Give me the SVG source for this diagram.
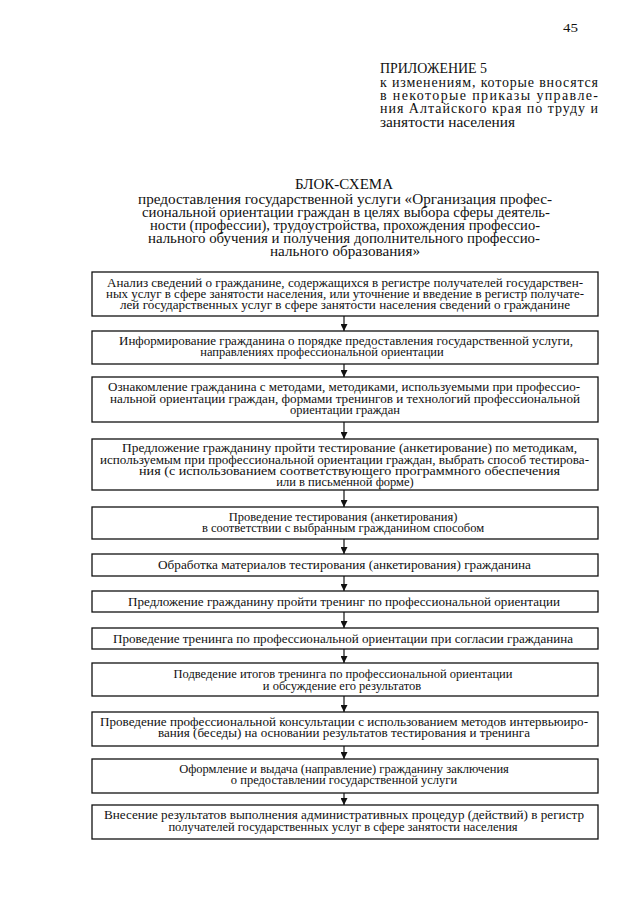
<svg xmlns="http://www.w3.org/2000/svg" width="640" height="905" viewBox="0 0 640 905">
<style>
text{font-family:"Liberation Serif","Times New Roman",serif;fill:#111}
.t{font-size:12.5px}
.h{font-size:14px}
.box{fill:#fff;stroke:#111;stroke-width:1.3}
.con line{stroke:#111;stroke-width:1.2}
</style>
<defs>
<marker id="ah" viewBox="0 0 8 8" refX="8" refY="4" markerWidth="7" markerHeight="7" markerUnits="userSpaceOnUse" orient="auto">
<path d="M0,0 L8,4 L0,8 z" fill="#111"/>
</marker>
</defs>
<rect width="640" height="905" fill="#fff"/>
<g id="header">
<text x="563" y="32" class="t" textLength="15" lengthAdjust="spacingAndGlyphs">45</text>
<text x="380" y="73" style="font-size:15px" textLength="107" lengthAdjust="spacingAndGlyphs">ПРИЛОЖЕНИЕ 5</text>
<text x="380" y="87" class="h" textLength="218" lengthAdjust="spacing">к изменениям, которые вносятся</text>
<text x="380" y="100" class="h" textLength="218" lengthAdjust="spacing">в некоторые приказы управле-</text>
<text x="380" y="113" class="h" textLength="218" lengthAdjust="spacing">ния Алтайского края по труду и</text>
<text x="380" y="127" class="h" textLength="135" lengthAdjust="spacingAndGlyphs">занятости населения</text>
</g>
<g id="title">
<text x="344" y="189" style="font-size:15px" text-anchor="middle">БЛОК-СХЕМА</text>
<text x="138" y="204" class="h" textLength="414" lengthAdjust="spacingAndGlyphs">предоставления государственной услуги «Организация профес-</text>
<text x="142" y="217" class="h" textLength="408" lengthAdjust="spacingAndGlyphs">сиональной ориентации граждан в целях выбора сферы деятель-</text>
<text x="150" y="230" class="h" textLength="390" lengthAdjust="spacingAndGlyphs">ности (профессии), трудоустройства, прохождения профессио-</text>
<text x="148" y="243" class="h" textLength="392" lengthAdjust="spacingAndGlyphs">нального обучения и получения дополнительного профессио-</text>
<text x="270" y="256" class="h" textLength="150" lengthAdjust="spacingAndGlyphs">нального образования»</text>
</g>
<g class="con" id="connectors">
<line x1="344" y1="316" x2="344" y2="331" marker-end="url(#ah)"/>
<line x1="344" y1="364" x2="344" y2="377" marker-end="url(#ah)"/>
<line x1="344" y1="422" x2="344" y2="439" marker-end="url(#ah)"/>
<line x1="344" y1="490" x2="344" y2="507" marker-end="url(#ah)"/>
<line x1="344" y1="539" x2="344" y2="554" marker-end="url(#ah)"/>
<line x1="344" y1="576" x2="344" y2="591" marker-end="url(#ah)"/>
<line x1="344" y1="612" x2="344" y2="628" marker-end="url(#ah)"/>
<line x1="344" y1="649" x2="344" y2="663" marker-end="url(#ah)"/>
<line x1="344" y1="696" x2="344" y2="712" marker-end="url(#ah)"/>
<line x1="344" y1="746" x2="344" y2="759" marker-end="url(#ah)"/>
<line x1="344" y1="793" x2="344" y2="805" marker-end="url(#ah)"/>
</g>
<g id="n1">
<rect class="box" x="92" y="272" width="506" height="44"/>
<text x="107" y="287" class="t" textLength="476" lengthAdjust="spacingAndGlyphs">Анализ сведений о гражданине, содержащихся в регистре получателей государствен-</text>
<text x="106" y="298" class="t" textLength="478" lengthAdjust="spacingAndGlyphs">ных услуг в сфере занятости населения, или уточнение и введение в регистр получате-</text>
<text x="120" y="309" class="t" textLength="450" lengthAdjust="spacingAndGlyphs">лей государственных услуг в сфере занятости населения сведений о гражданине</text>
</g>
<g id="n2">
<rect class="box" x="92" y="331" width="506" height="33"/>
<text x="119" y="345" class="t" textLength="454" lengthAdjust="spacingAndGlyphs">Информирование гражданина о порядке предоставления государственной услуги,</text>
<text x="322" y="356" class="t" text-anchor="middle">направлениях профессиональной ориентации</text>
</g>
<g id="n3">
<rect class="box" x="92" y="377" width="506" height="45"/>
<text x="108" y="391" class="t" textLength="472" lengthAdjust="spacingAndGlyphs">Ознакомление гражданина с методами, методиками, используемыми при профессио-</text>
<text x="110" y="403" class="t" textLength="470" lengthAdjust="spacingAndGlyphs">нальной ориентации граждан, формами тренингов и технологий профессиональной</text>
<text x="345" y="414" class="t" text-anchor="middle">ориентации граждан</text>
</g>
<g id="n4">
<rect class="box" x="92" y="439" width="506" height="51"/>
<text x="122" y="452" class="t" textLength="455" lengthAdjust="spacingAndGlyphs">Предложение гражданину пройти тестирование (анкетирование) по методикам,</text>
<text x="100" y="464" class="t" textLength="489" lengthAdjust="spacingAndGlyphs">используемым при профессиональной ориентации граждан, выбрать способ тестирова-</text>
<text x="139" y="475" class="t" textLength="421" lengthAdjust="spacingAndGlyphs">ния (с использованием соответствующего программного обеспечения</text>
<text x="345" y="486" class="t" text-anchor="middle">или в письменной форме)</text>
</g>
<g id="n5">
<rect class="box" x="92" y="507" width="506" height="32"/>
<text x="343" y="521" class="t" text-anchor="middle">Проведение тестирования (анкетирования)</text>
<text x="343" y="532" class="t" text-anchor="middle">в соответствии с выбранным гражданином способом</text>
</g>
<g id="n6">
<rect class="box" x="92" y="554" width="506" height="22"/>
<text x="158" y="569" class="t" textLength="373" lengthAdjust="spacingAndGlyphs">Обработка материалов тестирования (анкетирования) гражданина</text>
</g>
<g id="n7">
<rect class="box" x="92" y="591" width="506" height="21"/>
<text x="128" y="606" class="t" textLength="432" lengthAdjust="spacingAndGlyphs">Предложение гражданину пройти тренинг по профессиональной ориентации</text>
</g>
<g id="n8">
<rect class="box" x="92" y="628" width="506" height="21"/>
<text x="113" y="643" class="t" textLength="460" lengthAdjust="spacingAndGlyphs">Проведение тренинга по профессиональной ориентации при согласии гражданина</text>
</g>
<g id="n9">
<rect class="box" x="92" y="663" width="506" height="33"/>
<text x="343" y="678" class="t" text-anchor="middle">Подведение итогов тренинга по профессиональной ориентации</text>
<text x="342" y="690" class="t" text-anchor="middle">и обсуждение его результатов</text>
</g>
<g id="n10">
<rect class="box" x="92" y="712" width="506" height="34"/>
<text x="100" y="726" class="t" textLength="488" lengthAdjust="spacingAndGlyphs">Проведение профессиональной консультации с использованием методов интервьюиро-</text>
<text x="158" y="737" class="t" textLength="372" lengthAdjust="spacingAndGlyphs">вания (беседы) на основании результатов тестирования и тренинга</text>
</g>
<g id="n11">
<rect class="box" x="92" y="759" width="506" height="34"/>
<text x="344" y="773" class="t" text-anchor="middle">Оформление и выдача (направление) гражданину заключения</text>
<text x="344" y="784" class="t" text-anchor="middle">о предоставлении государственной услуги</text>
</g>
<g id="n12">
<rect class="box" x="92" y="805" width="506" height="34"/>
<text x="104" y="819" class="t" textLength="480" lengthAdjust="spacingAndGlyphs">Внесение результатов выполнения административных процедур (действий) в регистр</text>
<text x="343" y="831" class="t" text-anchor="middle">получателей государственных услуг в сфере занятости населения</text>
</g>
</svg>
